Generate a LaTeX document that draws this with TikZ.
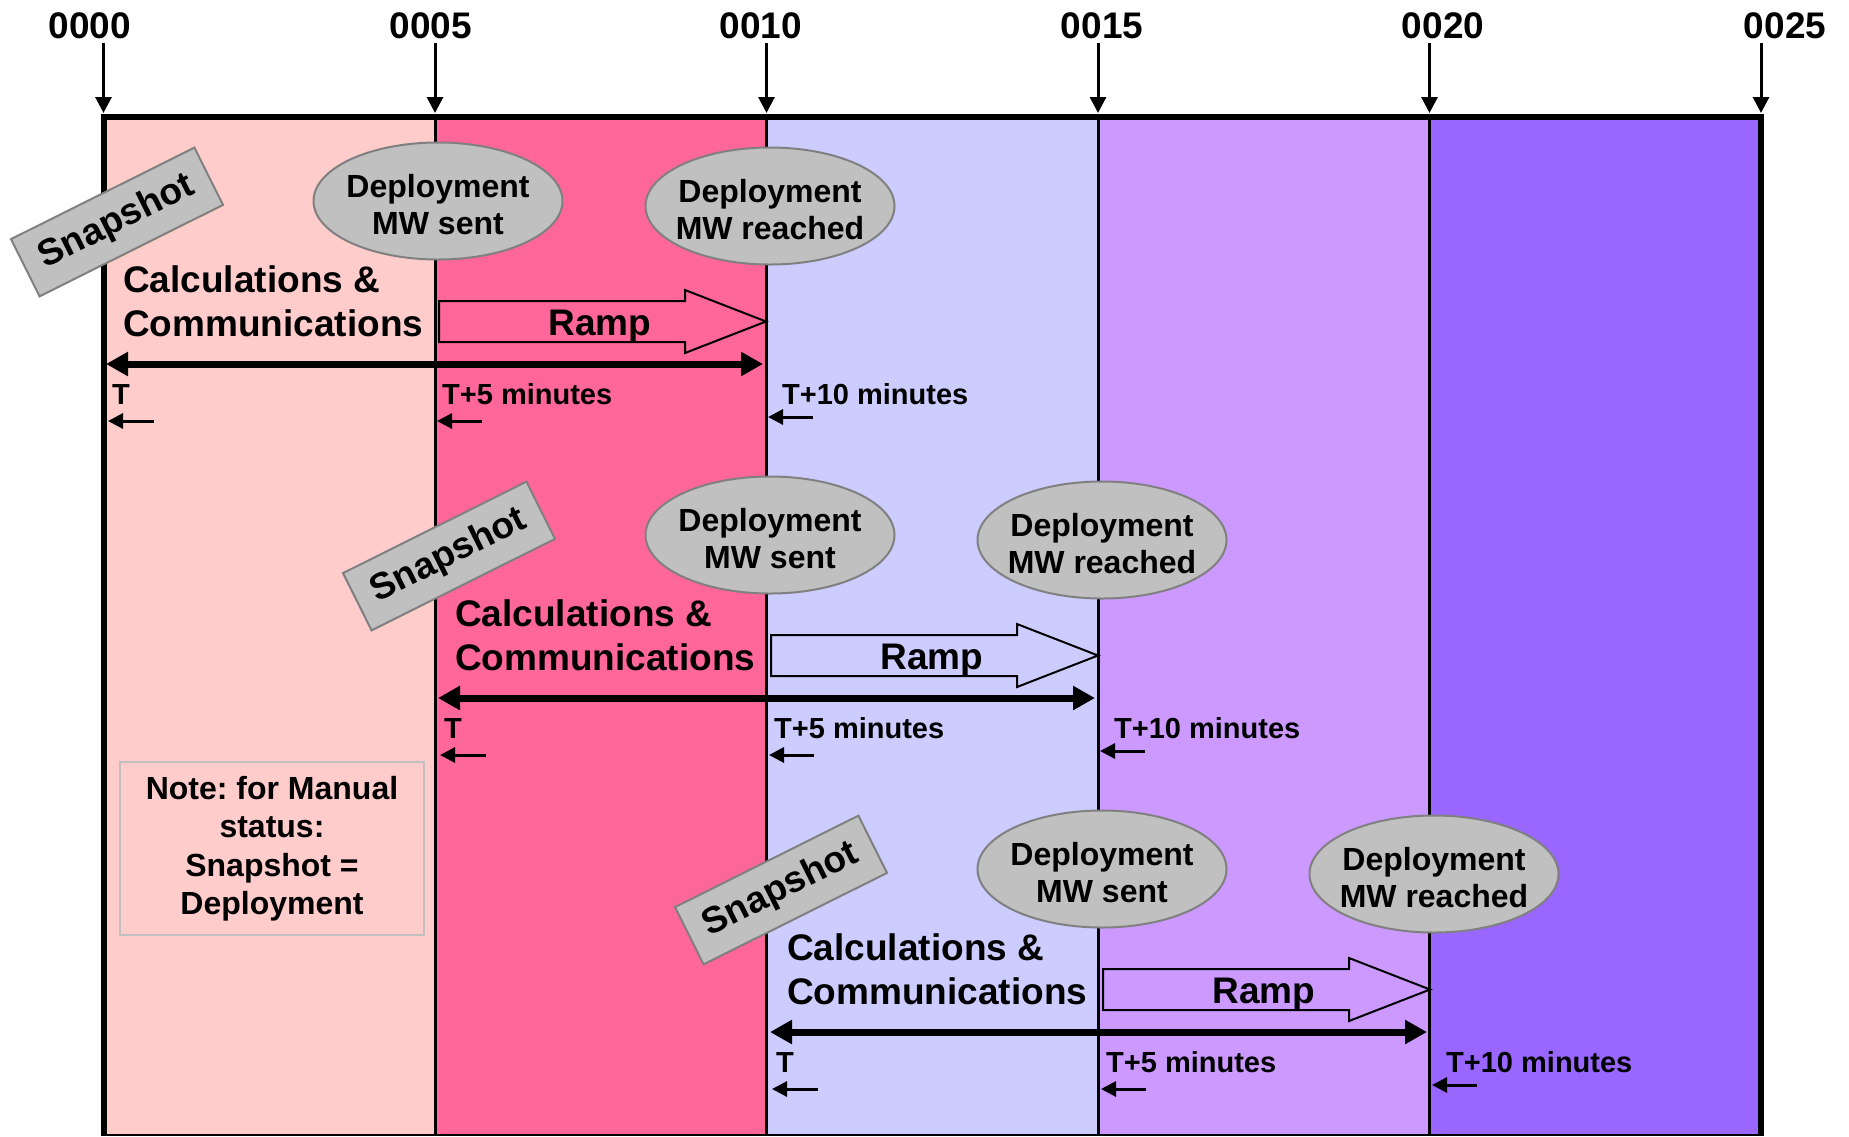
\documentclass[tikz,border=0pt]{standalone}
\usepackage{fontspec}
\setmainfont{Liberation Sans}
\usetikzlibrary{arrows.meta,shapes.geometric}
\definecolor{bandA}{HTML}{FFCCCC}
\definecolor{bandB}{HTML}{FF6699}
\definecolor{bandC}{HTML}{CCCCFF}
\definecolor{bandD}{HTML}{CC99FF}
\definecolor{bandE}{HTML}{9966FF}
\definecolor{silverfill}{HTML}{C0C0C0}
\definecolor{ovalline}{HTML}{808080}
\newcommand{\ovalstrut}{\rule{0pt}{30pt}}
\frenchspacing
\begin{document}
\begin{tikzpicture}[x=1pt,y=-1pt,
  ticklab/.style={font=\fontsize{37}{44}\selectfont\bfseries, anchor=base, inner sep=0},
  tickarrow/.style={line width=3pt, -{Triangle[length=16pt,width=16pt]}},
  snapbox/.style={draw=ovalline, fill=silverfill, line width=2pt, minimum width=205pt,
    minimum height=64pt, inner sep=0, font=\fontsize{37}{42}\selectfont\bfseries},
  oval/.style={ellipse, draw=ovalline, fill=silverfill, line width=2pt, minimum width=249pt,
    minimum height=117pt, inner xsep=-8pt, inner ysep=0, align=center, font=\fontsize{32}{37.5}\selectfont\bfseries},
  calctext/.style={anchor=north west, inner sep=0, align=left, font=\fontsize{37}{44}\selectfont\bfseries},
  rampline/.style={draw=black, line width=2pt, line join=miter},
  ramptext/.style={anchor=base, inner sep=0, font=\fontsize{37}{44}\selectfont\bfseries},
  spanarrow/.style={line width=7pt, {Triangle[length=22pt,width=23pt]}-{Triangle[length=22pt,width=23pt]}},
  tlabel/.style={anchor=base west, inner sep=0, font=\fontsize{29}{34}\selectfont\bfseries},
  smallarrow/.style={line width=3pt, -{Triangle[length=15pt,width=15pt]}},
  notebox/.style={draw=silverfill, line width=2pt, minimum width=304pt, minimum height=173pt,
    inner sep=0, align=center, font=\fontsize{32}{38.5}\selectfont\bfseries}
]
\useasboundingbox (0,0) rectangle (1849,1136);
% bands
\fill[bandA] (103.5,117) rectangle (435,1136);
\fill[bandB] (435,117) rectangle (766.5,1136);
\fill[bandC] (766.5,117) rectangle (1098,1136);
\fill[bandD] (1098,117) rectangle (1429.5,1136);
\fill[bandE] (1429.5,117) rectangle (1761,1136);
% inner lines
\foreach \x in {435,766.5,1098,1429.5} \draw[line width=3pt] (\x,117) -- (\x,1136);
% frame
\draw[line width=1.5pt] (103.5,1135.2) -- (1761,1135.2);
\draw[line width=6pt] (103.5,1136) -- (103.5,117) -- (1761,117) -- (1761,1136);
% tick labels and arrows
\node[ticklab] (l0) at (90,38) {0000};
\node[ticklab] (l5) at (431,38) {0005};
\node[ticklab] (l10) at (761,38) {0010};
\node[ticklab] (l15) at (1102,38) {0015};
\node[ticklab] (l20) at (1443,38) {0020};
\node[ticklab] (l25) at (1785,38) {0025};
\foreach \i/\x in {0/103.5,5/435,10/766.5,15/1098,20/1429.5,25/1761}{
  \coordinate (ts\i) at (\x,43);
  \coordinate (te\i) at (\x,113);
  \draw[tickarrow] (ts\i) -- (te\i);
}
% note
\node[notebox] (note) at (272,848.5) {Note: for Manual\\status:\\Snapshot =\\Deployment};
% rows
\foreach \r in {0,1,2}{
\begin{scope}[shift={(332*\r,334*\r)}]
  \draw[rampline] (439,301) -- (685,301) -- (685,290) -- (766,321.5) -- (685,353) -- (685,342) -- (439,342) -- cycle;
  \node[ramptext] (ramp\r) at (600,335) {Ramp};
  \node[snapbox, rotate=26.5] (snap\r) at (117,222) {Snapshot};
  \node[oval] (sent\r) at (438,201) {\ovalstrut Deployment\\MW sent};
  \node[oval] (reach\r) at (770,206) {\ovalstrut Deployment\\MW reached};
  \node[calctext] (calc\r) at (123,265) {Calculations \&\\Communications};
  \coordinate (sl\r) at (106,364);
  \coordinate (sr\r) at (763,364);
  \draw[spanarrow] (sl\r) -- (sr\r);
  \node[tlabel] (t\r) at (112,404) {T};
  \node[tlabel] (tf\r) at (442,404) {T+5 minutes};
  \node[tlabel] (tt\r) at (782,404) {T+10 minutes};
  \coordinate (aa\r) at (154,421); \coordinate (ab\r) at (108,421);
  \coordinate (ba\r) at (482,421); \coordinate (bb\r) at (437,421);
  \coordinate (ca\r) at (813,417); \coordinate (cb\r) at (768,417);
  \draw[smallarrow] (aa\r) -- (ab\r);
  \draw[smallarrow] (ba\r) -- (bb\r);
  \draw[smallarrow] (ca\r) -- (cb\r);
\end{scope}
}
\end{tikzpicture}
\end{document}
